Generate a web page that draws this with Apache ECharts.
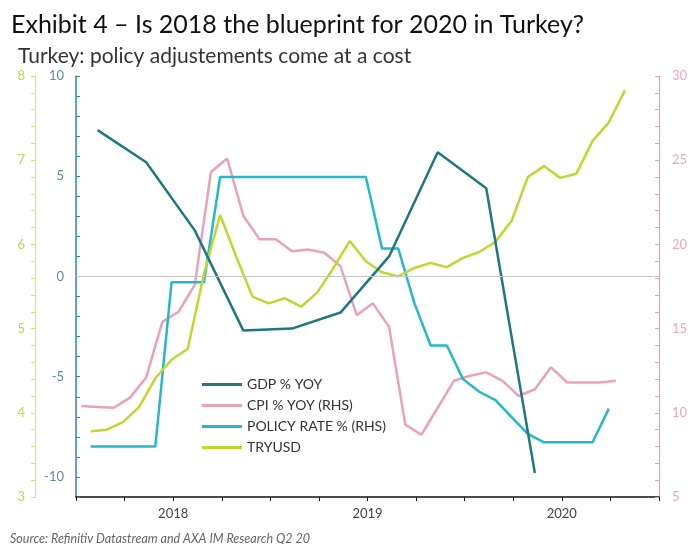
<!DOCTYPE html>
<html>
    <head>
        <meta charset="utf-8">
        <title>Turkey</title>
        <script src="https://cdn.jsdelivr.net/npm/echarts@6/dist/echarts.min.js"></script>
    </head>
    <body style="margin:0;">
        <div id="main" style="width: 691px;height: 544px;"></div>

        <script>
            // monthly series, first month + values
            const cpiStart = '2017-07';
            const cpiYoY = [10.4, 10.35, 10.3, 10.9, 12.1, 15.4, 16.0, 17.6, 24.3, 25.1, 21.7, 20.3,
                20.3, 19.6, 19.7, 19.5, 18.7, 15.8, 16.5, 15.1, 9.3, 8.7, 10.3, 11.9,
                12.2, 12.4, 11.9, 11.0, 11.4, 12.7, 11.8, 11.8, 11.8, 11.9];

            const policyStart = '2017-07';
            const policyRate = [8, 8, 8, 8, 8, 17.75, 17.75, 17.75, 24, 24, 24, 24,
                24, 24, 24, 24, 24, 24, 19.75, 19.75, 16.5, 14, 14, 12,
                11.25, 10.75, 9.75, 8.75, 8.25, 8.25, 8.25, 8.25, 10.25];

            const tryStart = '2017-07';
            const tryUsd = [3.78, 3.80, 3.89, 4.07, 4.41, 4.63, 4.76, 5.65, 6.35, 5.85, 5.38, 5.30,
                5.36, 5.26, 5.43, 5.72, 6.04, 5.80, 5.67, 5.62, 5.72, 5.78, 5.73, 5.84,
                5.91, 6.03, 6.28, 6.80, 6.93, 6.79, 6.84, 7.23, 7.45, 7.83];

            // quarterly
            const gdpStart = '2017-08';
            const gdpYoY = [7.3, 5.7, 2.3, -2.7, -2.6, -1.8, 1.0, 6.2, 4.4, -9.8];

            const legendNames = ['GDP % YOY', 'CPI % YOY (RHS)', 'POLICY RATE % (RHS)', 'TRYUSD'];

            // date -> fractional year on the value axis
            function toPoints(start, step, day, values) {
                const parts = start.split('-').map(Number);
                return values.map(function (v, i) {
                    const m = parts[1] - 1 + i * step;
                    return [parts[0] + (m + (day - 1) / 30) / 12, v];
                });
            }

            const font = 'Lato';

            function everyN(n) {
                return function (v) {
                    const r = Math.round(v);
                    return (Math.abs(v - r) < 1e-6 && r % n === 0) ? String(r) : '';
                };
            }

            const option = {
                animation: false,
                backgroundColor: '#fff',
                textStyle: { fontFamily: font },
                title: [
                    {
                        text: 'Exhibit 4 \u2013 Is 2018 the blueprint for 2020 in Turkey?',
                        left: 6, top: 7,
                        textStyle: { fontFamily: font, fontSize: 25, fontWeight: 'normal', color: '#111' }
                    },
                    {
                        text: 'Turkey: policy adjustements come at a cost',
                        left: 13, top: 41,
                        textStyle: { fontFamily: font, fontSize: 21, fontWeight: 'normal', color: '#333' }
                    }
                ],
                grid: {
                    left: 76,
                    right: 32,
                    top: 76,
                    bottom: 47
                },
                legend: {
                    data: legendNames,
                    orient: 'vertical',
                    left: 197,
                    top: 371,
                    icon: 'rect',
                    itemWidth: 40,
                    itemHeight: 3,
                    itemGap: 4,
                    textStyle: { fontFamily: font, fontSize: 14, color: '#333', lineHeight: 17 }
                },
                xAxis: {
                    type: 'value',
                    min: 2017.5,
                    max: 2020.5,
                    interval: 0.25,
                    axisLine: { onZero: false, lineStyle: { color: '#111', width: 1.5 } },
                    axisTick: { show: true, length: 4, lineStyle: { color: '#111' } },
                    splitLine: { show: false },
                    axisLabel: {
                        margin: 10,
                        fontSize: 13,
                        color: '#444',
                        formatter: function (v) {
                            return Math.abs(v - Math.round(v)) < 1e-6 ? String(Math.round(v)) : '';
                        }
                    }
                },
                yAxis: [
                    {
                        type: 'value',
                        position: 'left',
                        min: -11,
                        max: 10,
                        interval: 1,
                        axisLine: { show: true, lineStyle: { color: '#2a8b92', width: 1.5 } },
                        axisTick: { show: true, inside: true, length: 4, lineStyle: { color: '#2a8b92' } },
                        splitLine: { show: false },
                        axisLabel: { margin: 12, fontSize: 13, color: '#5e8b90', formatter: everyN(5) }
                    },
                    {
                        type: 'value',
                        position: 'left',
                        offset: 41,
                        min: 3,
                        max: 8,
                        interval: 0.2,
                        axisLine: { show: true, lineStyle: { color: '#d9e27a', width: 1.2 } },
                        axisTick: { show: true, length: 4, lineStyle: { color: '#d9e27a' } },
                        splitLine: { show: false },
                        axisLabel: { margin: 10, fontSize: 13, color: '#c5d451', formatter: everyN(1) }
                    },
                    {
                        type: 'value',
                        position: 'right',
                        min: 5,
                        max: 30,
                        interval: 1,
                        axisLine: { show: true, lineStyle: { color: '#e7a2b8', width: 1.2 } },
                        axisTick: { show: true, inside: true, length: 4, lineStyle: { color: '#e7a2b8' } },
                        splitLine: { show: false },
                        axisLabel: { margin: 13, fontSize: 13, color: '#eaa8bf', formatter: everyN(5) }
                    }
                ],
                series: [
                    {
                        name: 'CPI % YOY (RHS)',
                        type: 'line',
                        yAxisIndex: 2,
                        symbol: 'none',
                        color: '#eaa1ba',
                        lineStyle: { width: 2.5 },
                        data: toPoints(cpiStart, 1, 11, cpiYoY)
                    },
                    {
                        name: 'POLICY RATE % (RHS)',
                        type: 'line',
                        yAxisIndex: 2,
                        symbol: 'none',
                        color: '#25b7cd',
                        lineStyle: { width: 2.5 },
                        data: toPoints(policyStart, 1, 28, policyRate)
                    },
                    {
                        name: 'TRYUSD',
                        type: 'line',
                        yAxisIndex: 1,
                        symbol: 'none',
                        color: '#c3d62f',
                        lineStyle: { width: 2.5 },
                        data: toPoints(tryStart, 1, 28, tryUsd)
                    },
                    {
                        name: 'GDP % YOY',
                        type: 'line',
                        yAxisIndex: 0,
                        symbol: 'none',
                        color: '#1f7880',
                        lineStyle: { width: 2.5 },
                        data: toPoints(gdpStart, 3, 11, gdpYoY),
                        markLine: {
                            silent: true,
                            symbol: 'none',
                            label: { show: false },
                            lineStyle: { color: '#c4c4c4', type: 'solid', width: 1 },
                            data: [{ yAxis: 0 }]
                        }
                    }
                ],
                graphic: [
                    {
                        type: 'text',
                        left: 10,
                        top: 532,
                        style: {
                            text: 'Source: Refinitiv Datastream and AXA IM Research Q2 20',
                            font: 'italic 12.5px ' + font,
                            fill: '#666'
                        }
                    }
                ]
            };

            let chart = echarts.init(document.getElementById('main'));
            chart.setOption(option);
        </script>
    </body>
</html>
